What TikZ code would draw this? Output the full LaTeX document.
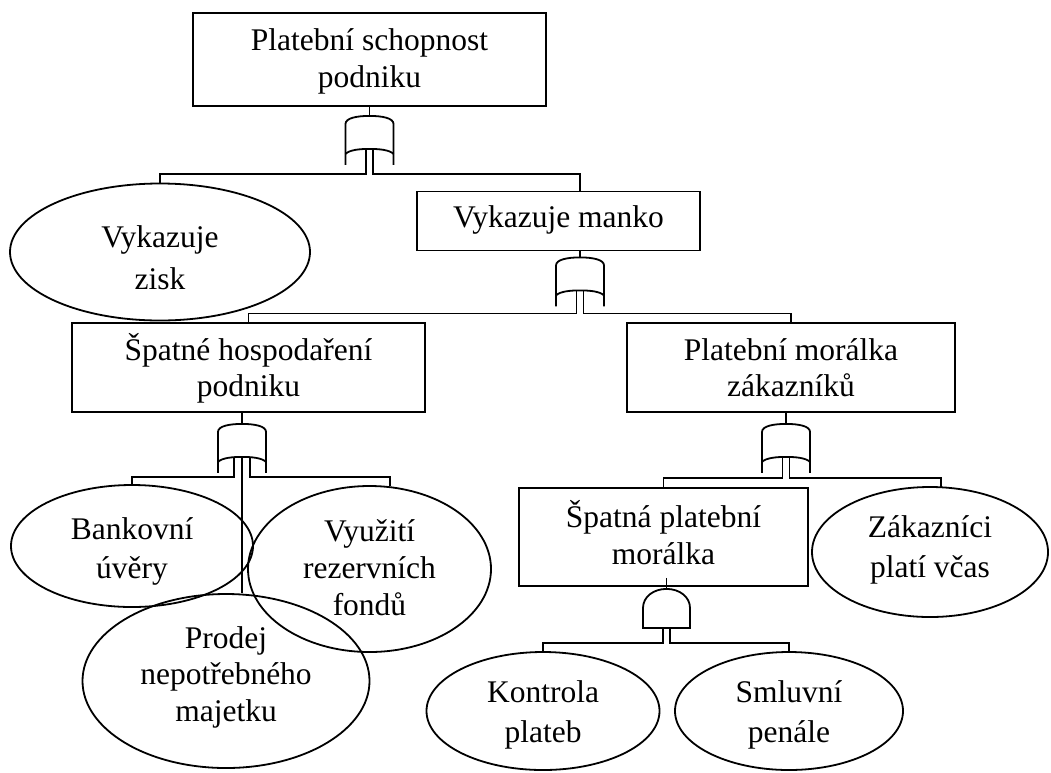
\documentclass[tikz,border=0pt]{standalone}
\usepackage{fontspec}
\setmainfont{Liberation Serif}
\usetikzlibrary{shapes.geometric,calc}
\tikzset{
  orgate/.pic={
    \draw (-24,49) -- (-24,8) .. controls (-24,2) and (-12,0) .. (0,0)
          .. controls (12,0) and (24,2) .. (24,8) -- (24,49);
    \draw (-24,38) .. controls (-20,34) and (-10,33) .. (0,33)
          .. controls (10,33) and (20,34) .. (24,38);
  },
  andgate/.pic={
    \draw (-23.5,39) -- (-23.5,19) .. controls (-23.5,8) and (-13,0) .. (0,0)
          .. controls (13,0) and (23.5,8) .. (23.5,19) -- (23.5,39) -- cycle;
  }
}
\newcommand{\lsp}[1]{\fontsize{31.5}{#1}\selectfont}
\begin{document}
\begin{tikzpicture}[x=1pt,y=-1pt,line width=1.8pt,
  txt/.style={font=\lsp{37},align=center,inner sep=0pt},
  box/.style={draw,rectangle,inner sep=0pt},
  oval/.style={draw,ellipse,inner sep=0pt}]
\path[fill=white] (0,0) rectangle (1051,772);
\useasboundingbox (0,0) rectangle (1051,772);

% boxes
\node[box,minimum width=353pt,minimum height=93pt] (top) at (369.5,59.5) {};
\node[box,minimum width=283pt,minimum height=59pt] (manko) at (558.5,221) {};
\node[box,minimum width=353pt,minimum height=89pt] (spatne) at (248.5,367.5) {};
\node[box,minimum width=328pt,minimum height=89pt] (morale) at (791,367.5) {};
\node[box,minimum width=289pt,minimum height=98pt] (spatna) at (663.5,537) {};

% ellipses
\node[oval,minimum width=300pt,minimum height=137pt] (zisk) at (160,252) {};
\node[oval,minimum width=242pt,minimum height=122pt] (bank) at (132,546) {};
\node[oval,minimum width=243pt,minimum height=166pt] (vyuz) at (369.5,569) {};
\node[oval,minimum width=287pt,minimum height=174pt] (prodej) at (226,681) {};
\node[oval,minimum width=236pt,minimum height=130pt] (zak) at (930,552) {};
\node[oval,minimum width=233pt,minimum height=118pt] (kontrola) at (543,711) {};
\node[oval,minimum width=228pt,minimum height=118pt] (smluv) at (789,711) {};

% texts
\node[txt] (topT) at (369.5,61.5) {Platební schopnost\\podniku};
\node[txt] (mankoT) at (558.5,220) {Vykazuje manko};
\node[txt,font=\lsp{42}] (ziskT) at (160,258) {Vykazuje\\zisk};
\node[txt,font=\lsp{36}] (spatneT) at (248.5,368) {Špatné hospodaření\\podniku};
\node[txt,font=\lsp{36}] (moraleT) at (791,368) {Platební morálka\\zákazníků};
\node[txt,font=\lsp{37}] (spatnaT) at (663.5,532.5) {Špatná platební\\morálka};
\node[txt,font=\lsp{39}] (bankT) at (132,551) {Bankovní\\úvěry};
\node[txt] (vyuzT) at (369.5,568) {Využití\\rezervních\\fondů};
\node[txt,font=\lsp{36.5}] (prodejT) at (226,677) {Prodej\\nepotřebného\\majetku};
\node[txt,font=\lsp{40}] (zakT) at (930,550) {Zákazníci\\platí včas};
\node[txt,font=\lsp{40}] (kontrolaT) at (543,715) {Kontrola\\plateb};
\node[txt,font=\lsp{40}] (smluvT) at (789,715) {Smluvní\\penále};

% gate positions
\coordinate (g1) at ($(top.south)+(0,9)$);
\coordinate (g2) at ($(manko.south)+(21.5,6)$);
\coordinate (g3) at ($(spatne.south)+(-6.5,11)$);
\coordinate (g4) at ($(morale.south)+(-5,11)$);
\coordinate (g5) at ($(spatna.south)+(3,2)$);

\pic at (g1) {orgate};
\pic at (g2) {orgate};
\pic at (g3) {orgate};
\pic at (g4) {orgate};
\pic at (g5) {andgate};

% gate 1
\draw (top.south) -- (g1);
\draw ($(g1)+(-3.5,33)$) -- ($(g1)+(-3.5,58)$) -| (zisk.north);
\draw ($(g1)+(3.5,33)$) -- ($(g1)+(3.5,58)$) -| (manko.north -| g2);

% gate 2
\draw (manko.south -| g2) -- (g2);
\draw ($(g2)+(-3.5,33)$) -- ($(g2)+(-3.5,56)$) -| (spatne.north);
\draw ($(g2)+(3.5,33)$) -- ($(g2)+(3.5,56)$) -| (morale.north);

% gate 3
\draw (spatne.south -| g3) -- (g3);
\draw ($(g3)+(-8,33)$) -- ($(g3)+(-8,53)$) -| (bank.north);
\draw ($(g3)+(0,33)$) -- (g3 |- prodej.north);
\draw ($(g3)+(8,33)$) -- ($(g3)+(8,53)$) -| ($(vyuz.north)+(20.5,1.2)$);

% gate 4
\draw (morale.south -| g4) -- (g4);
\draw ($(g4)+(-3.5,33)$) -- ($(g4)+(-3.5,54)$) -| (spatna.north);
\draw ($(g4)+(3.5,33)$) -- ($(g4)+(3.5,54)$) -| ($(zak.north)+(11,0.5)$);

% gate 5 (AND)
\draw ($(spatna.south -| g5)+(0,-9)$) -- (g5);
\draw ($(g5)+(-3.5,39)$) -- ($(g5)+(-3.5,54)$) -| (kontrola.north);
\draw ($(g5)+(3.5,39)$) -- ($(g5)+(3.5,54)$) -| (smluv.north);
\end{tikzpicture}
\end{document}
